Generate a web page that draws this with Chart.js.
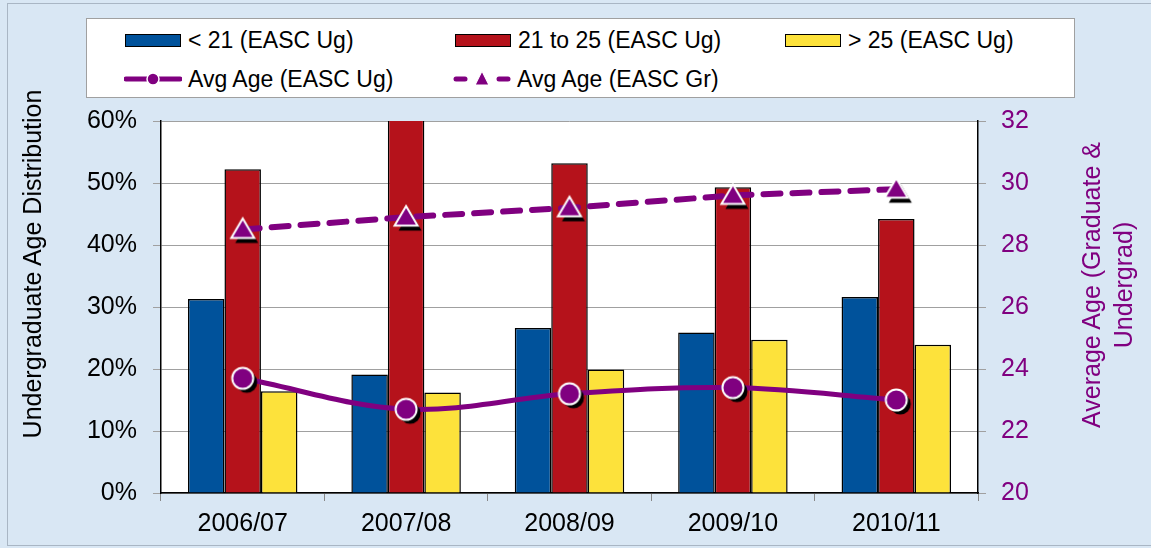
<!DOCTYPE html>
<html><head><meta charset="utf-8">
<script src="https://cdn.jsdelivr.net/npm/chart.js@4"></script>
<style>
html,body{margin:0;padding:0;}
body{width:1151px;height:548px;background:#d9e7f4;position:relative;overflow:hidden;font-family:"Liberation Sans",Arial,sans-serif;}
#frame{position:absolute;left:7px;top:3px;width:1150px;height:543px;border:1px solid #a9b6c4;box-sizing:border-box;}
#c{position:absolute;left:0;top:0;}
#legend{position:absolute;left:86px;top:18px;width:989px;height:80px;background:#fff;border:1px solid #a0a0a0;box-sizing:border-box;}
.item{position:absolute;height:28px;display:flex;align-items:center;font-size:23px;color:#000;white-space:nowrap;}
.sw{width:56px;height:13px;border:1.5px solid #000;box-sizing:border-box;margin-right:7px;}
.item svg{margin-right:6px;}
.vt{position:absolute;width:500px;font-size:25px;text-align:center;transform:rotate(-90deg);transform-origin:50% 50%;white-space:nowrap;}
#ltitle{left:-218px;top:249px;height:30px;line-height:30px;color:#000;}
#rtitle{left:857px;top:253px;height:64px;line-height:32px;color:#800080;}
</style>
</head><body>
<div id="frame"></div>
<canvas id="c" width="1151" height="548"></canvas>
<div id="legend"></div>
<div id="ltitle" class="vt">Undergraduate Age Distribution</div>
<div id="rtitle" class="vt">Average Age (Graduate &amp;<br>Undergrad)</div>
<script>
const categories = ['2006/07','2007/08','2008/09','2009/10','2010/11'];
const under21 = [31.3, 19.1, 26.6, 25.9, 31.6];
const age21to25 = [52.2, 62.0, 53.2, 49.3, 44.2];
const over25 = [16.4, 16.2, 19.9, 24.7, 23.9];
const avgAgeUg = [23.7, 22.7, 23.2, 23.4, 23.0];
const avgAgeGr = [28.5, 28.9, 29.2, 29.6, 29.8];
const pctTicks = [0, 10, 20, 30, 40, 50, 60];
const ageTicks = [20, 22, 24, 26, 28, 30, 32];

const BLUE = '#00529b', RED = '#b5121b', YELLOW = '#fde23b', PURPLE = '#800080';
const FONT = '"Liberation Sans", Arial, sans-serif';

function makeCircle() {
  const c = document.createElement('canvas'); c.width = 38; c.height = 38;
  const g = c.getContext('2d');
  g.fillStyle = '#000'; g.beginPath(); g.arc(23, 23, 10.5, 0, Math.PI * 2); g.fill();
  g.fillStyle = PURPLE; g.strokeStyle = '#fff'; g.lineWidth = 2;
  g.beginPath(); g.arc(19, 19, 10.5, 0, Math.PI * 2); g.fill(); g.stroke();
  return c;
}
function makeTriangle() {
  const c = document.createElement('canvas'); c.width = 40; c.height = 40;
  const g = c.getContext('2d');
  function tri(cx, cy) { g.beginPath(); g.moveTo(cx, cy - 11); g.lineTo(cx + 11.5, cy + 8.5); g.lineTo(cx - 11.5, cy + 8.5); g.closePath(); }
  g.fillStyle = '#000'; tri(24, 25); g.fill();
  g.fillStyle = PURPLE; g.strokeStyle = '#fff'; g.lineWidth = 2; g.lineJoin = 'miter';
  tri(20, 20); g.fill(); g.stroke();
  return c;
}
const circleImg = makeCircle();
const triImg = makeTriangle();

const areaBg = {
  id: 'areaBg',
  beforeDraw(chart) {
    const a = chart.chartArea, ctx = chart.ctx;
    ctx.save(); ctx.fillStyle = '#fff';
    ctx.fillRect(a.left, a.top, a.right - a.left, a.bottom - a.top);
    ctx.restore();
  }
};

Chart.defaults.font.family = FONT;
Chart.defaults.font.size = 25;
Chart.defaults.color = '#000';

new Chart(document.getElementById('c'), {
  type: 'bar',
  data: {
    labels: categories,
    datasets: [
      { label: '< 21 (EASC Ug)', data: under21, backgroundColor: BLUE, borderColor: '#000', borderWidth: 1.5, yAxisID: 'y', order: 2, clip: 0 },
      { label: '21 to 25 (EASC Ug)', data: age21to25, backgroundColor: RED, borderColor: '#000', borderWidth: 1.5, yAxisID: 'y', order: 2, clip: 0 },
      { label: '> 25 (EASC Ug)', data: over25, backgroundColor: YELLOW, borderColor: '#000', borderWidth: 1.5, yAxisID: 'y', order: 2, clip: 0 },
      { type: 'line', label: 'Avg Age (EASC Ug)', data: avgAgeUg, borderColor: PURPLE, borderWidth: 5, tension: 0.35, pointStyle: circleImg, pointRadius: 10, yAxisID: 'y1', order: 0, clip: false, fill: false },
      { type: 'line', label: 'Avg Age (EASC Gr)', data: avgAgeGr, borderColor: PURPLE, borderWidth: 6, borderDash: [17, 12], borderCapStyle: 'round', tension: 0, pointStyle: triImg, pointRadius: 10, yAxisID: 'y1', order: 1, clip: false, fill: false }
    ]
  },
  options: {
    responsive: false,
    animation: false,
    events: [],
    layout: { padding: { top: 121, left: 0, right: 0, bottom: 0 } },
    datasets: { bar: { categoryPercentage: 0.67, barPercentage: 1.0 } },
    plugins: { legend: { display: false }, tooltip: { enabled: false } },
    scales: {
      x: {
        grid: { offset: true, drawOnChartArea: false, tickLength: 8, color: '#888' },
        border: { color: '#000', width: 1.5 },
        ticks: { padding: 8, font: { size: 25 }, color: '#000' },
        afterFit(s) { s.height = 55; }
      },
      y: {
        min: 0, max: 60,
        afterBuildTicks(s) { s.ticks = pctTicks.map(v => ({ value: v })); },
        ticks: { callback: v => v + '%', padding: 16, font: { size: 25 }, color: '#000' },
        grid: { color: '#a0a0a0', tickLength: 8, lineWidth: 1 },
        border: { color: '#000', width: 1.5 },
        afterFit(s) { s.width = 161; }
      },
      y1: {
        position: 'right', min: 20, max: 32,
        afterBuildTicks(s) { s.ticks = ageTicks.map(v => ({ value: v })); },
        ticks: { padding: 15, font: { size: 25 }, color: PURPLE },
        grid: { drawOnChartArea: false, tickLength: 8, color: '#a0a0a0' },
        border: { color: '#000', width: 1.5 },
        afterFit(s) { s.width = 1151 - 978; }
      }
    }
  },
  plugins: [areaBg]
});

// HTML legend built from the series names
const legend = document.getElementById('legend');
const legendItems = [
  { label: '< 21 (EASC Ug)', kind: 'box', color: BLUE, x: 124, y: 39 },
  { label: '21 to 25 (EASC Ug)', kind: 'box', color: RED, x: 454, y: 39 },
  { label: '> 25 (EASC Ug)', kind: 'box', color: YELLOW, x: 784, y: 39 },
  { label: 'Avg Age (EASC Ug)', kind: 'lineCircle', color: PURPLE, x: 123, y: 78 },
  { label: 'Avg Age (EASC Gr)', kind: 'lineTri', color: PURPLE, x: 452, y: 78 }
];
legendItems.forEach(it => {
  const d = document.createElement('div');
  d.className = 'item';
  d.style.left = (it.x - 86) + 'px';
  d.style.top = (it.y - 18 - 14) + 'px';
  let sym;
  if (it.kind === 'box') {
    sym = '<div class="sw" style="background:' + it.color + '"></div>';
  } else if (it.kind === 'lineCircle') {
    sym = '<svg width="58" height="20"><line x1="2" y1="10" x2="56" y2="10" stroke="' + it.color + '" stroke-width="5" stroke-linecap="round"/><circle cx="29" cy="10" r="6" fill="' + it.color + '" stroke="#fff" stroke-width="1.5"/></svg>';
  } else {
    sym = '<svg width="58" height="20"><line x1="3" y1="10" x2="12" y2="10" stroke="' + it.color + '" stroke-width="5" stroke-linecap="round"/><line x1="46" y1="10" x2="55" y2="10" stroke="' + it.color + '" stroke-width="5" stroke-linecap="round"/><polygon points="29,2 36,16 22,16" fill="' + it.color + '" stroke="#fff" stroke-width="1.2"/></svg>';
  }
  d.innerHTML = sym + '<span>' + it.label + '</span>';
  legend.appendChild(d);
});
</script>
</body></html>
